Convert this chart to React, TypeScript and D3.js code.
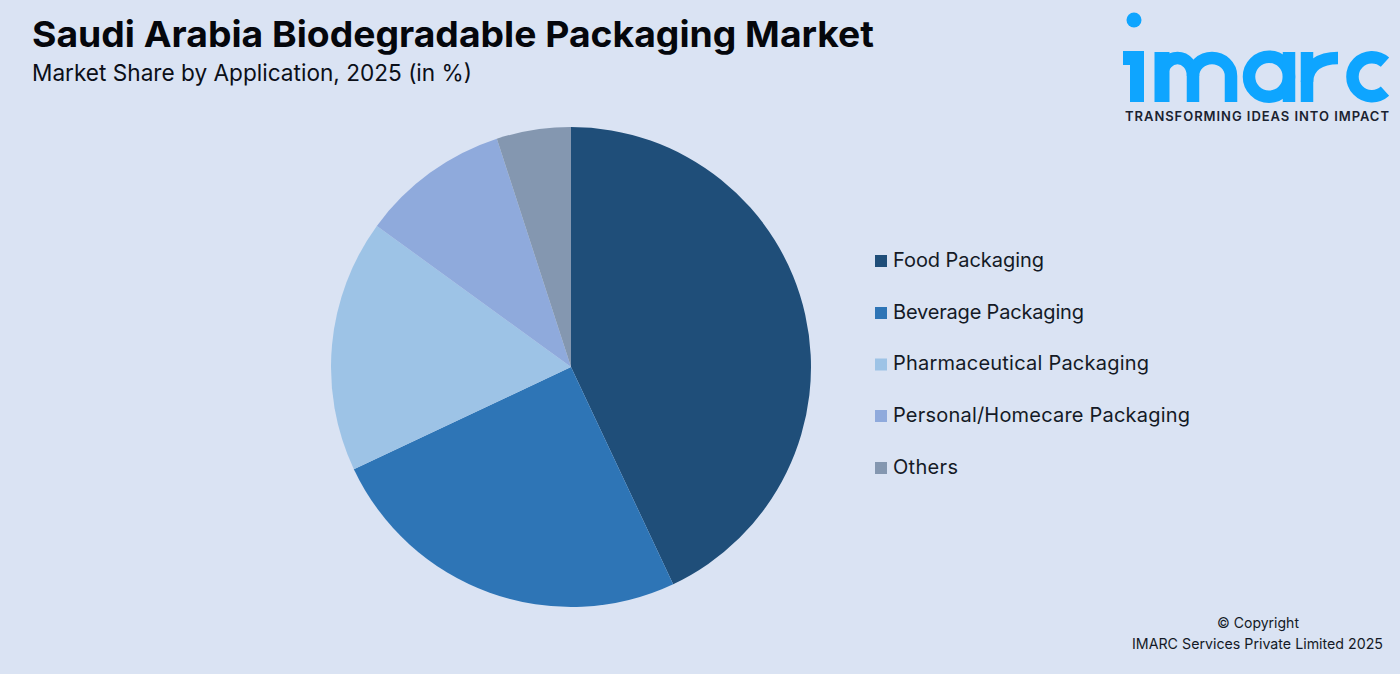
import React from "react";
import * as d3 from "d3";

const categories = ["Food Packaging", "Beverage Packaging", "Pharmaceutical Packaging", "Personal/Homecare Packaging", "Others"];
const shares = [43, 25, 17, 10, 5];
const colors = ["#1f4e79", "#2e75b6", "#9dc3e6", "#8faadc", "#8497b0"];
const legendY = [261, 313, 364.5, 416, 468];
const legendWidths = [151, 191, 256, 297, 65];

const BG = "#dae3f3";
const FONT = "Inter, 'Noto Sans', sans-serif";
const LOGO = "#0ea5ff";

export default function App() {
  const pie = d3.pie<number>().sort(null)(shares);
  const arc = d3.arc<d3.PieArcDatum<number>>().innerRadius(0).outerRadius(240);
  return (
    <svg width={1400} height={674} viewBox="0 0 1400 674" style={{ position: "fixed", left: 0, top: 0, background: BG }}>
      <rect width={1400} height={674} fill={BG} />
      <text x={32} y={47} fontFamily={FONT} fontWeight={700} fontSize={36} textLength={842} lengthAdjust="spacingAndGlyphs" fill="#05070c">Saudi Arabia Biodegradable Packaging Market</text>
      <text x={32} y={81} fontFamily={FONT} fontSize={23} textLength={440} lengthAdjust="spacingAndGlyphs" fill="#0b0f18">Market Share by Application, 2025 (in %)</text>
      <g transform="translate(571,367)">
        {pie.map((d, i) => (
          <path key={categories[i]} d={arc(d) as string} fill={colors[i]} />
        ))}
      </g>
      {categories.map((c, i) => (
        <g key={c}>
          <rect x={875} y={legendY[i] - 6} width={12} height={12} fill={colors[i]} />
          <text x={893} y={legendY[i] + 5.7} fontFamily={FONT} fontSize={20} textLength={legendWidths[i]} lengthAdjust="spacing" fill="#141a26">{c}</text>
        </g>
      ))}
      <text x={1217} y={628} fontFamily={FONT} fontSize={14.5} textLength={82} lengthAdjust="spacingAndGlyphs" fill="#141a26">© Copyright</text>
      <text x={1132} y={649} fontFamily={FONT} fontSize={14.5} textLength={251} lengthAdjust="spacingAndGlyphs" fill="#141a26">IMARC Services Private Limited 2025</text>
      <g fill="none" stroke={LOGO} strokeWidth={12.5}>
        <circle cx={1134} cy={20} r={7.5} fill={LOGO} stroke="none" />
        <path d="M1123 58H1137V102" strokeWidth={14} />
        <path d="M1162 102V52" strokeWidth={15} />
        <path d="M1162 76A15.5 18 0 0 1 1193 76V102" />
        <path d="M1193 76A19 18 0 0 1 1231 76V102" />
        <circle cx={1269} cy={76.7} r={20} />
        <path d="M1289 52V102" />
        <path d="M1307 102V52" />
        <path d="M1307 82C1307 66 1320 58 1338 58" />
        <path d="M1385 62.2A19.5 19.5 0 1 0 1385 91.2" />
      </g>
      <text x={1125} y={121} fontFamily={FONT} fontWeight={600} fontSize={13} textLength={264} lengthAdjust="spacing" fill="#1a2230">TRANSFORMING IDEAS INTO IMPACT</text>
    </svg>
  );
}
